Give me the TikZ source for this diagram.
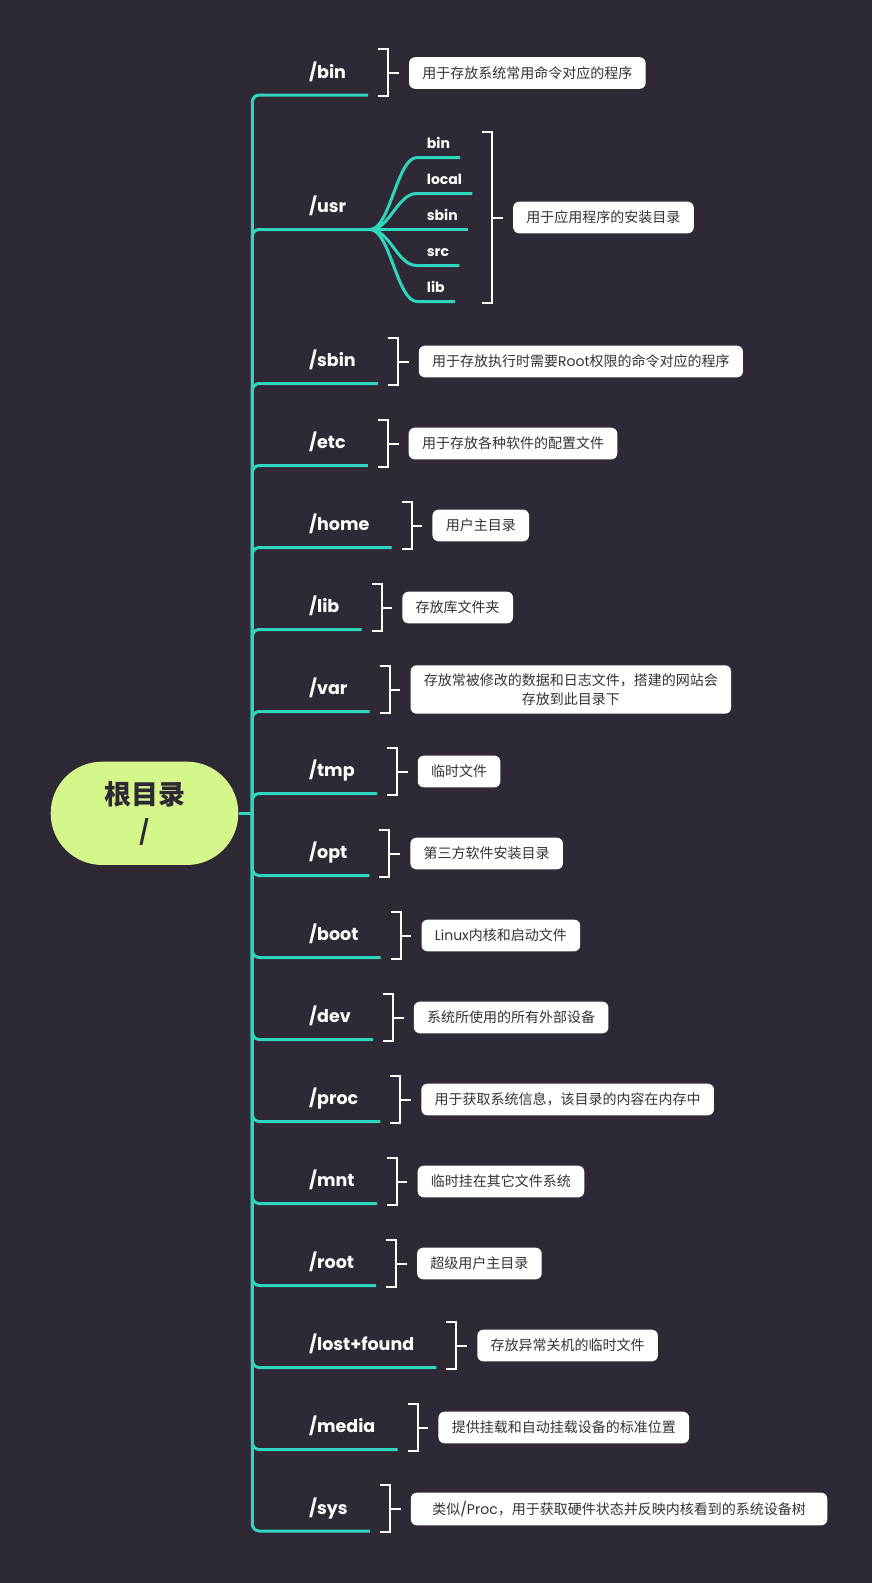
\documentclass[tikz,border=0pt]{standalone}
\usepackage{fontspec}
\setmainfont{Poppins}
\newfontfamily\cjk{Noto Sans CJK SC}
\newfontfamily\latf{Poppins}
\newcommand\lat[1]{{\latf\fontsize{14}{18.3}\selectfont #1}}
\definecolor{bg}{RGB}{47,41,53}
\definecolor{branchc}{RGB}{47,214,190}
\definecolor{rootfill}{RGB}{212,246,138}
\definecolor{boxtext}{RGB}{51,51,51}
\tikzset{
  branch/.style={draw=branchc, line width=3pt},
  trunk/.style={branch, rounded corners=7pt},
  lbl/.style={anchor=base west, inner sep=0pt, text=white, font=\bfseries\fontsize{17.5}{20}\selectfont},
  sublbl/.style={anchor=base west, inner sep=0pt, text=white, font=\bfseries\fontsize{14}{16}\selectfont},
  desc/.style={anchor=west, fill=white, rounded corners=6pt, text=boxtext, align=center,
    font=\cjk\fontsize{14}{18.3}\selectfont, inner xsep=13.3pt, inner ysep=8.5pt, minimum height=31.6pt},
  brk/.style={draw=white, line width=2pt, line join=miter},
  rootn/.style={fill=rootfill, text=bg, rounded corners=51.5pt, minimum width=187.6pt, minimum height=103.3pt,
    align=center, inner sep=0pt, font=\cjk\bfseries\fontsize{27}{36}\selectfont}
}
\newcommand\dirbranch[5][]{%
  \node[lbl] (L#2) at (309,#3-17) {#4};
  \coordinate (Y#2) at (0,#3);
  \path (L#2.east |- Y#2) ++(22pt,0) coordinate (E#2);
  \draw[trunk] (J) |- (E#2);
  \path (E#2) ++(20pt,0) coordinate (B#2);
  \draw[brk] ([xshift=-10pt,yshift=46pt]B#2) -- ([yshift=46pt]B#2) -- ([yshift=-1pt]B#2) -- ([xshift=-10pt,yshift=-1pt]B#2);
  \draw[brk] ([yshift=22pt]B#2) -- ([xshift=10.7pt,yshift=22pt]B#2);
  \node[desc,#1] (D#2) at ([xshift=20.7pt,yshift=22pt]B#2) {#5};
}
\newcommand\subbranch[3]{%
  \node[sublbl] (S#1) at (426.7,#2-9) {#3};
  \coordinate (Q#1) at (417,#2);
  \path (S#1.east |- Q#1) ++(10pt,0) coordinate (E#1);
  \draw[branch] (F) .. controls +(20,0) and +(-20,0) .. (Q#1) -- (E#1);
}
\begin{document}
\begin{tikzpicture}[x=1pt,y=-1pt]
\fill[bg] (0,0) rectangle (872,1583);
\useasboundingbox (0,0) rectangle (872,1583);
\node[rootn] (root) at (144.5,813.3) {根目录\\/};
\coordinate (J) at (252.3,813.3);
\draw[branch] (root.east) -- (J);
\dirbranch{bin}{95}{/bin}{用于存放系统常用命令对应的程序}
% /usr
\node[lbl] (Lusr) at (309,229.5-17) {/usr};
\coordinate (F) at (370,229.5);
\draw[trunk] (J) |- (F);
\subbranch{ubin}{157.5}{bin}
\subbranch{ulocal}{193.5}{local}
\subbranch{usbin}{229.5}{sbin}
\subbranch{usrc}{265.5}{src}
\subbranch{ulib}{301.5}{lib}
\coordinate (UT) at (0,131.7);
\coordinate (UB) at (0,303.3);
\coordinate (UM) at (0,217.5);
\path (Eulocal |- UT) ++(20pt,0) coordinate (BUT);
\path (Eulocal |- UB) ++(20pt,0) coordinate (BUB);
\path (Eulocal |- UM) ++(20pt,0) coordinate (BUM);
\draw[brk] ([xshift=-10pt]BUT) -- (BUT) -- (BUB) -- ([xshift=-10pt]BUB);
\draw[brk] (BUM) -- ([xshift=10.7pt]BUM);
\node[desc] (Dusr) at ([xshift=20.7pt]BUM) {用于应用程序的安装目录};
%
\dirbranch{sbin}{383.5}{/sbin}{用于存放执行时需要\lat{Root}权限的命令对应的程序}
\dirbranch{etc}{465.5}{/etc}{用于存放各种软件的配置文件}
\dirbranch{home}{547.5}{/home}{用户主目录}
\dirbranch{lib}{629.5}{/lib}{存放库文件夹}
\dirbranch{var}{711.5}{/var}{存放常被修改的数据和日志文件，搭建的网站会\\存放到此目录下}
\dirbranch{tmp}{793.5}{/tmp}{临时文件}
\dirbranch{opt}{875.5}{/opt}{第三方软件安装目录}
\dirbranch{boot}{957.5}{/boot}{\lat{Linux}内核和启动文件}
\dirbranch{dev}{1039.5}{/dev}{系统所使用的所有外部设备}
\dirbranch{proc}{1121.5}{/proc}{用于获取系统信息，该目录的内容在内存中}
\dirbranch{mnt}{1203.5}{/mnt}{临时挂在其它文件系统}
\dirbranch{root}{1285.5}{/root}{超级用户主目录}
\dirbranch{lost}{1367.5}{/lost+found}{存放异常关机的临时文件}
\dirbranch{media}{1449.5}{/media}{提供挂载和自动挂载设备的标准位置}
\dirbranch[inner xsep=21.5pt]{sys}{1531}{/sys}{类似\lat{/Proc}，用于获取硬件状态并反映内核看到的系统设备树}
\end{tikzpicture}
\end{document}
